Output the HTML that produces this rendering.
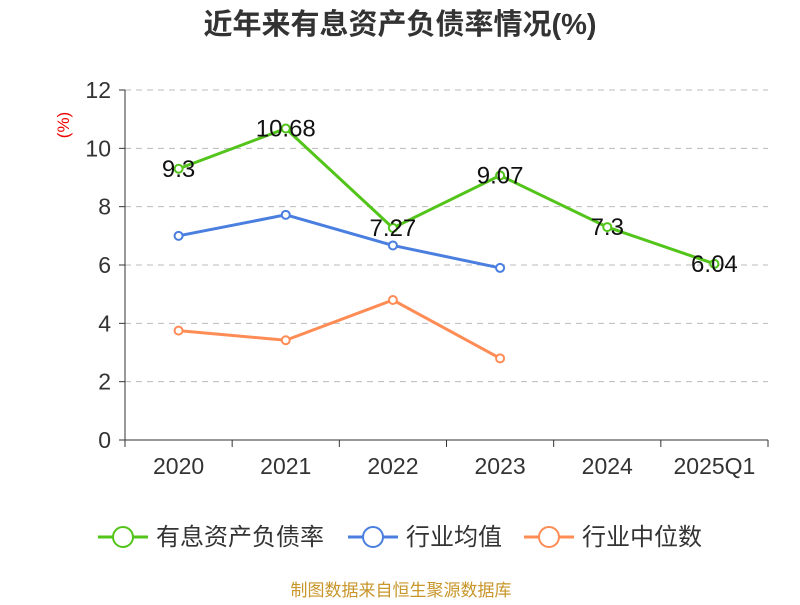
<!DOCTYPE html>
<html><head><meta charset="utf-8"><style>
body{margin:0;background:#fff;font-family:"Liberation Sans","Noto Sans CJK SC",sans-serif}
</style></head><body>
<svg width="800" height="600" xmlns="http://www.w3.org/2000/svg" font-family="Liberation Sans, Noto Sans CJK SC, sans-serif">
<text x="400" y="34" text-anchor="middle" font-size="29" font-weight="bold" fill="#333">近年来有息资产负债率情况(%)</text>
<text transform="translate(69,125) rotate(-90)" text-anchor="middle" font-size="17" fill="#e00">(%)</text>
<g id="grid"></g><g id="axes"></g><g id="series"></g>
<g>
<g><line x1="98" y1="537" x2="148" y2="537" stroke="#52c41a" stroke-width="3"/><circle cx="123" cy="537" r="10" fill="#fff" stroke="#52c41a" stroke-width="2"/><text x="156" y="545" font-size="24" fill="#333">有息资产负债率</text></g>
<g><line x1="348" y1="537" x2="398" y2="537" stroke="#4a7fe0" stroke-width="3"/><circle cx="373" cy="537" r="10" fill="#fff" stroke="#4a7fe0" stroke-width="2"/><text x="406" y="545" font-size="24" fill="#333">行业均值</text></g>
<g><line x1="524" y1="537" x2="574" y2="537" stroke="#ff8c55" stroke-width="3"/><circle cx="549" cy="537" r="10" fill="#fff" stroke="#ff8c55" stroke-width="2"/><text x="582" y="545" font-size="24" fill="#333">行业中位数</text></g>
</g>
<text x="401" y="596" text-anchor="middle" font-size="17" fill="#c8962a">制图数据来自恒生聚源数据库</text>
</svg>
<script>
const categories=["2020","2021","2022","2023","2024","2025Q1"];
const debtRatio=[9.3,10.68,7.27,9.07,7.3,6.04];
const industryMean=[7.0,7.72,6.67,5.9];
const industryMedian=[3.75,3.42,4.8,2.8];
const yTicks=[0,2,4,6,8,10,12];
const NS="http://www.w3.org/2000/svg";
const x0=125,x1=768,yb=440,yt=90,ymax=12;
const bw=(x1-x0)/categories.length;
const xs=i=>x0+bw*(i+0.5);
const ys=v=>yb-(v/ymax)*(yb-yt);
function mk(tag,attrs,parent,txt){const e=document.createElementNS(NS,tag);for(const k in attrs)e.setAttribute(k,attrs[k]);if(txt!==undefined)e.textContent=txt;parent.appendChild(e);return e;}
const grid=document.getElementById('grid'),axes=document.getElementById('axes'),ser=document.getElementById('series');
yTicks.forEach(t=>{
 if(t>0){const g=mk('line',{x1:x0,x2:x1,y1:ys(t),y2:ys(t),stroke:'#bbb','stroke-dasharray':'6,5'},grid);
 
 }
 const tk=mk('line',{x1:x0-6,x2:x0,y1:ys(t),y2:ys(t),stroke:'#333'},axes);
 
 
 const l=mk('text',{x:x0-14,y:ys(t)+8,'text-anchor':'end','font-size':'23',fill:'#333'},axes,String(t));
 
 
});
const ya=mk('line',{x1:x0,x2:x0,y1:yt,y2:yb,stroke:'#333'},axes);


const xa=mk('line',{x1:x0,x2:x1,y1:yb,y2:yb,stroke:'#333'},axes);


for(let i=0;i<=categories.length;i++){const tk=mk('line',{x1:x0+bw*i,x2:x0+bw*i,y1:yb,y2:yb+7,stroke:'#333'},axes);
 
 }
categories.forEach((c,i)=>{const l=mk('text',{x:xs(i),y:yb+34,'text-anchor':'middle','font-size':'23',fill:'#333'},axes,c);
 
 });
function series(vals,color,name,labels){
 const p=mk('polyline',{points:vals.map((v,i)=>xs(i)+','+ys(v)).join(' '),fill:'none',stroke:color,'stroke-width':3},ser);
 
 
 vals.forEach((v,i)=>{const c=mk('circle',{cx:xs(i),cy:ys(v),r:4,fill:'#fff',stroke:color,'stroke-width':2},ser);
  
  
  if(labels){const t=mk('text',{x:xs(i),y:ys(v)+8,'text-anchor':'middle','font-size':'24',fill:'#111'},ser,String(v));
   
   }
 });
}
series(industryMedian,'#ff8c55','industry-median',false);
series(industryMean,'#4a7fe0','industry-mean',false);
series(debtRatio,'#52c41a','debt-ratio',true);
</script>
</body></html>
